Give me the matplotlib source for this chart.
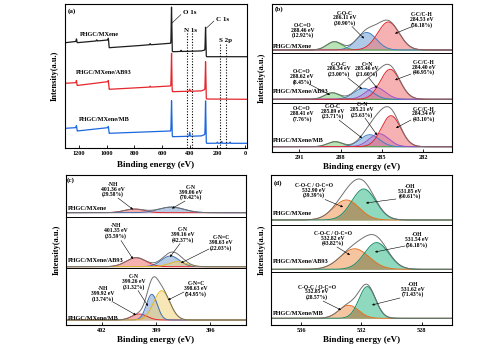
import numpy as np
import matplotlib.pyplot as plt
from matplotlib.patches import FancyArrowPatch

W, H = 500, 351

# ---------------- data ----------------
# (a) survey: background level at fixed binding energies, plus peaks (eV, height)
survey_names = ['PHGC/MXene', 'PHGC/MXene/AB93', 'PHGC/MXene/MB']
survey_colors = ['#1e1e1e', '#e5262b', '#1d67dd']
bg_energy = [1300, 1220, 1214, 988, 982, 533, 528, 318, 288, 282, 0]
bg_mxene = [105.3, 106.5, 105.3, 108.0, 100.3, 104.7, 96.3, 97.0, 98.0, 91.3, 91.3]
bg_ab93 = [64.7, 65.3, 62.5, 66.3, 58.7, 62.0, 56.3, 57.0, 58.5, 49.0, 48.7]
bg_mb = [19.7, 20.3, 17.0, 20.3, 14.7, 17.0, 11.3, 12.0, 13.5, 4.7, 4.7]
peaks_mxene = [(1218, 3.0), (1072, 1.2), (987, 2.0), (686, 1.2), (462, 1.2), (531, 39.4), (285, 26.0)]
peaks_ab93 = [(1218, 3.0), (987, 1.5), (686, 1.0), (531, 35.0), (400, 2.0), (285, 32.5)]
peaks_mb = [(1218, 3.0), (987, 1.5), (531, 32.6), (400, 4.0), (285, 37.9), (200, 1.2), (168, 1.8), (108, 1.2)]
n1s_marks = [417, 381]
s2p_marks = [181, 140]

# (b) C 1s fits: (component, centre eV, height, sigma)
b_mxene = [('O-C=O', 288.46, 8.3, 0.55), ('C-O-C', 286.11, 17.5, 0.72), ('C-C/C-H', 284.53, 28.0, 0.78)]
b_ab93 = [('O-C=O', 288.62, 6.5, 0.55), ('C-O-C', 286.34, 11.0, 0.7), ('C=N', 285.46, 12.0, 0.7),
          ('C-C/C-H', 284.40, 30.0, 0.72)]
b_mb = [('O-C=O', 288.41, 5.0, 0.55), ('C-O-C', 285.89, 12.0, 0.7), ('C=N', 285.21, 13.0, 0.7),
        ('C-C/C-H', 284.34, 31.0, 0.7)]

# (c) N 1s fits
c_mxene = [('-NH', 400.2, 3.6, 0.55), ('C-N', 398.15, 5.6, 0.7)]
c_ab93 = [('-NH', 400.1, 9.0, 0.55), ('C-N', 398.2, 10.7, 0.5), ('C-N=C', 397.8, 5.0, 0.5)]
c_mb = [('-NH', 399.92, 6.0, 0.42), ('C-N', 399.23, 25.7, 0.3), ('C-N=C', 398.68, 29.3, 0.45)]

# (d) O 1s fits
d_mxene = [('C-O-C / O-C=O', 533.0, 20.0, 0.85), ('-OH', 531.85, 31.0, 0.8)]
d_ab93 = [('C-O-C / O-C=O', 532.45, 20.5, 0.95), ('-OH', 531.0, 26.7, 0.8)]
d_mb = [('C-O-C / O-C=O', 532.85, 13.0, 0.65), ('-OH', 531.62, 31.7, 0.55)]

# ---------------- style ----------------
plt.rcParams['font.family'] = ['Liberation Serif', 'DejaVu Serif']
plt.rcParams['font.weight'] = 'bold'
plt.rcParams['axes.linewidth'] = 0.8

fig = plt.figure(figsize=(5.0, 3.51), dpi=100)


def add_ax(l, t, r, b):
    return fig.add_axes([l / W, 1 - b / H, (r - l) / W, (b - t) / H])


def ftext(x, y, s, size=4.1, ha='center', **kw):
    fig.text(x / W, 1 - y / H, s, fontsize=size, ha=ha, va='center',
             linespacing=0.95, **kw)


def farrow(x0, y0, x1, y1, head=True):
    style = '-|>' if head else '-'
    fig.add_artist(FancyArrowPatch((x0 / W, 1 - y0 / H), (x1 / W, 1 - y1 / H),
                                   transform=fig.transFigure, arrowstyle=style,
                                   mutation_scale=3, lw=0.4, color='black',
                                   shrinkA=0, shrinkB=0))


def style_axes(ax, ticks):
    ax.set_xticks(ticks)
    ax.set_yticks([])
    ax.tick_params(axis='x', direction='in', length=2, width=0.6, labelsize=4.5, pad=2)


def gauss(x, c, h, s):
    return h * np.exp(-(x - c) ** 2 / (2 * s * s))


def stacked(ax, x, rows, bases, seps, edge, fill, alpha, overlap=None):
    for comps, base in zip(rows, bases):
        curves = [gauss(x, c, h, s) for _, c, h, s in comps]
        for (name, *_), g in zip(comps, curves):
            ax.fill_between(x, base, base + g, color=fill[name], alpha=alpha, lw=0)
        if overlap is not None:
            ax.fill_between(x, base, base + np.minimum(curves[0], curves[1]), color=overlap, lw=0)
        for (name, *_), g in zip(comps, curves):
            ax.plot(x, base + g, color=edge[name], lw=0.7)
        ax.plot(x, base + np.sum(curves, axis=0), color='#707070', lw=0.7)
    for s in seps:
        ax.axhline(s, color='black', lw=0.7)


# ---------------- (a) survey ----------------
ax_a = add_ax(65, 4, 247, 148)
e = np.linspace(1301, -14.5, 5000)
for bg, pk, col in zip([bg_mxene, bg_ab93, bg_mb], [peaks_mxene, peaks_ab93, peaks_mb], survey_colors):
    y = np.interp(e, bg_energy[::-1], bg[::-1])
    for c, h in pk:
        y = y + gauss(e, c, h, 2.0)
    ax_a.plot(e, y, color=col, lw=0.9)
ax_a.vlines(n1s_marks, 0, 116, colors='black', linestyles=(0, (1, 1.5)), lw=0.8)
ax_a.vlines(s2p_marks, 0, 104, colors='black', linestyles=(0, (1, 1.5)), lw=0.8)
ax_a.set_xlim(1301, -14.5)
ax_a.set_ylim(0, 144)
style_axes(ax_a, [1200, 1000, 800, 600, 400, 200, 0])

ftext(68, 11, '(a)', size=5, ha='left')
ftext(190, 12.5, 'O 1s', size=5)
ftext(223, 19.5, 'C 1s', size=5)
ftext(190.5, 30, 'N 1s', size=5)
ftext(225.5, 40.5, 'S 2p', size=5)
farrow(172, 23, 181, 14.5, head=False)
farrow(206.5, 28, 214, 21, head=False)
for name, (x, y) in zip(survey_names, [(99, 34.3), (104, 72.3), (104, 119.3)]):
    ftext(x, y, name, size=4.5)

# ---------------- (b) C 1s ----------------
edge_b = {'O-C=O': '#3fa63f', 'C-O-C': '#3f7fc4', 'C=N': '#a24fc4', 'C-C/C-H': '#e2262b'}
fill_b = {'O-C=O': '#7fcf7f', 'C-O-C': '#6d9fd6', 'C=N': '#b486d8', 'C-C/C-H': '#ef7373'}
ax_b = add_ax(272, 4, 452, 152)
xb = np.linspace(293.0, 279.9, 1200)
stacked(ax_b, xb, [b_mxene, b_ab93, b_mb], [102, 52.7, 5.3], [98.7, 49.3], edge_b, fill_b, 0.55)
ax_b.set_xlim(293.0, 279.9)
ax_b.set_ylim(0, 148)
style_axes(ax_b, [291, 288, 285, 282])

labels_b = [
    ('O-C=O\n288.46 eV\n(12.92%)', 303, 30.5, None),
    ('C-O-C\n286.11 eV\n(30.90%)', 345, 18.3, (352, 26.5, 364, 38.5)),
    ('C-C/C-H\n284.53 eV\n(56.18%)', 422, 20, (411, 27, 395, 33.5)),
    ('O-C=O\n288.62 eV\n(8.45%)', 302, 77, (309, 84, 330, 95)),
    ('C-O-C\n286.34 eV\n(23.00%)', 339, 69.3, (348, 78, 362, 89)),
    ('C=N\n285.46 eV\n(21.60%)', 367, 69.3, (369, 78, 377, 88)),
    ('C-C/C-H\n284.40 eV\n(46.95%)', 424, 67.7, (411, 74, 395, 80)),
    ('O-C=O\n288.41 eV\n(7.76%)', 302, 114, None),
    ('C-O-C\n285.89 eV\n(23.71%)', 333, 111.7, (339, 120, 362, 138)),
    ('C=N\n285.21 eV\n(25.63%)', 362, 110, (365, 118, 377, 135)),
    ('C-C/C-H\n284.34 eV\n(43.10%)', 424, 114.3, (411, 120, 396, 128)),
]
ftext(275, 9.5, '(b)', size=5, ha='left')
for name, y in zip(survey_names, [46.7, 91.7, 141]):
    ftext(273, y, name, size=4.5, ha='left')

# ---------------- (c) N 1s ----------------
edge_c = {'-NH': '#e2262b', 'C-N': '#3f6fae', 'C-N=C': '#e8b820'}
fill_c = {'-NH': '#ef7070', 'C-N': '#7a9fcf', 'C-N=C': '#f2d27a'}
ax_c = add_ax(66, 175, 246, 325)
xc = np.linspace(404, 394, 1200)
stacked(ax_c, xc, [c_mxene, c_ab93, c_mb], [112.3, 58.3, 5.0], [108, 57], edge_c, fill_c, 0.55)
ax_c.set_xlim(404, 394)
ax_c.set_ylim(0, 150)
style_axes(ax_c, [402, 399, 396])

labels_c = [
    ('-NH\n401.36 eV\n(29.58%)', 113, 189.5, (118, 198, 133, 209.5)),
    ('C-N\n399.06 eV\n(70.42%)', 191, 192.5, (185, 201, 172, 208.5)),
    ('-NH\n401.35 eV\n(35.59%)', 116, 231, (121, 240.5, 133, 259)),
    ('C-N\n399.16 eV\n(42.37%)', 183, 235, (180, 243.5, 170, 257)),
    ('C-N=C\n398.63 eV\n(22.03%)', 221, 243, (209, 249, 181, 263)),
    ('C-N\n399.26 eV\n(31.32%)', 134, 282, (138, 290.5, 148, 306)),
    ('-NH\n399.92 eV\n(13.74%)', 103, 294, (113, 302, 136, 315)),
    ('C-N=C\n398.63 eV\n(54.95%)', 196, 289, (184, 292, 168, 300)),
]
ftext(67, 180, '(c)', size=5, ha='left')
for name, y in zip(survey_names, [208.5, 260, 318]):
    ftext(68, y, name, size=4.5, ha='left')

# ---------------- (d) O 1s ----------------
edge_d = {'C-O-C / O-C=O': '#e46f1c', '-OH': '#178a68'}
fill_d = {'C-O-C / O-C=O': '#f7c4a0', '-OH': '#8fd9bf'}
ax_d = add_ax(271, 175, 452, 325)
xd = np.linspace(538, 526, 1200)
stacked(ax_d, xd, [d_mxene, d_ab93, d_mb], [105, 55.7, 6.7], [100.5, 53], edge_d, fill_d, 1.0,
        overlap='#a99b6d')
ax_d.set_xlim(538, 526)
ax_d.set_ylim(0, 150)
style_axes(ax_d, [536, 532, 528])

labels_d = [
    ('C-O-C / O-C=O\n532.90 eV\n(39.39%)', 314, 190.7, (325, 199.5, 343, 207)),
    ('-OH\n531.85 eV\n(60.61%)', 410, 191.5, (396, 199, 366, 203)),
    ('C-O-C / O-C=O\n532.82 eV\n(43.82%)', 333, 238.5, (337, 247, 350, 255)),
    ('-OH\n531.54 eV\n(56.18%)', 417, 240, (405, 246, 375, 252)),
    ('C-O-C / O-C=O\n532.85 eV\n(28.57%)', 317, 292.3, (323, 301, 341, 310)),
    ('-OH\n531.62 eV\n(71.43%)', 413, 289.5, (400, 298, 372, 305)),
]
ftext(274, 183, '(d)', size=5, ha='left')
for name, y in zip(survey_names, [213.3, 261.7, 313.3]):
    ftext(273, y, name, size=4.5, ha='left')

for text, x, y, arr in labels_b + labels_c + labels_d:
    ftext(x, y, text)
    if arr is not None:
        farrow(*arr)

# axis titles
for x, y in [(156, 165), (362, 167), (156, 340), (361.5, 339.5)]:
    ftext(x, y, 'Binding energy (eV)', size=6.5)
for x, y in [(55, 76), (262, 78), (57, 250), (262, 250)]:
    ftext(x, y, 'Intensity(a.u.)', size=6, rotation=90)

fig.savefig('out.png', dpi=100)
